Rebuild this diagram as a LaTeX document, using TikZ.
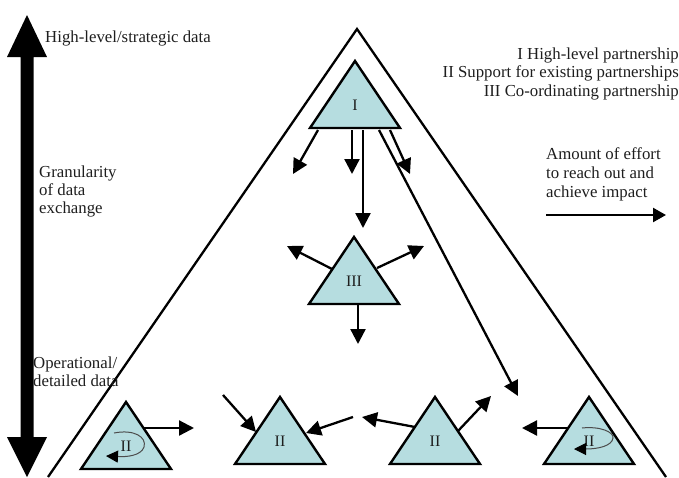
\documentclass[tikz,border=0pt]{standalone}
\usepackage{fontspec}
\setmainfont{Liberation Serif}
\usetikzlibrary{arrows.meta}
\definecolor{partfill}{RGB}{182,221,224}
\definecolor{txt}{RGB}{30,30,30}
\begin{document}
\begin{tikzpicture}[x=1pt,y=-1pt,
  lbl/.style={inner sep=0pt, anchor=base west, text=txt, font=\fontsize{16.8}{18.5}\selectfont},
  rlbl/.style={lbl, anchor=base east},
  numlbl/.style={inner sep=0pt, text=txt, font=\fontsize{16}{18}\selectfont},
  part/.style={draw=black, fill=partfill, line width=2.4pt, line join=miter},
  flow/.style={line width=2.3pt, -{Triangle[length=15pt,width=15pt]}},
  frame/.style={line width=2.3pt},
  selfloop/.style={draw=gray!60!black, line width=1pt, -{Triangle[length=12pt,width=12pt,color=black]}},
  pics/parttri/.style={code={
    \path[part] (0,0) -- (45,67) -- (-45,67) -- cycle;
    \node[numlbl] (-lab) at (0,44) {#1};
  }},
]
\useasboundingbox (0,0) rectangle (679,477);

% vertical granularity scale (double-headed block arrow)
\fill[black] (27,15) -- (47,57) -- (33.5,57) -- (33.5,437) -- (47,437) -- (27,477)
  -- (7,437) -- (20.5,437) -- (20.5,57) -- (7,57) -- cycle;

% outer pyramid
\coordinate (apex) at (357,29);
\coordinate (baseL) at (48,477);
\coordinate (baseR) at (666,477);
\draw[frame] (baseL) -- (apex) -- (baseR);

% partnership triangles
\pic (tI) at (355,61) {parttri=I};
\pic (tIII) at (354,237) {parttri=III};
\pic (tIIa) at (126,402) {parttri=II};
\pic (tIIb) at (280,397) {parttri=II};
\pic (tIIc) at (435,397) {parttri=II};
\pic (tIId) at (589,397) {parttri=II};

% arrows leaving I
\coordinate (i1s) at (318,130); \coordinate (i1e) at (293,174);
\coordinate (i2s) at (352,130); \coordinate (i2e) at (352,174);
\coordinate (i3s) at (363,130); \coordinate (i3e) at (363,228);
\coordinate (i4s) at (390,130); \coordinate (i4e) at (410,174);
\coordinate (i5s) at (379,130); \coordinate (i5e) at (518,396);
\draw[flow] (i1s) -- (i1e);
\draw[flow] (i2s) -- (i2e);
\draw[flow] (i3s) -- (i3e);
\draw[flow] (i4s) -- (i4e);
\draw[flow] (i5s) -- (i5e);

% arrows leaving III
\coordinate (iii1s) at (332,269); \coordinate (iii1e) at (287,246);
\coordinate (iii2s) at (377,268); \coordinate (iii2e) at (424,246);
\coordinate (iii3s) at (358,305); \coordinate (iii3e) at (358,344);
\draw[flow] (iii1s) -- (iii1e);
\draw[flow] (iii2s) -- (iii2e);
\draw[flow] (iii3s) -- (iii3e);

% arrows among the II partnerships
\coordinate (a1s) at (144,428); \coordinate (a1e) at (194,428);
\coordinate (b1s) at (223,395); \coordinate (b1e) at (256,432);
\coordinate (b2s) at (353,417); \coordinate (b2e) at (306,433);
\coordinate (c1s) at (415,427); \coordinate (c1e) at (362,417);
\coordinate (c2s) at (458,431); \coordinate (c2e) at (491,396);
\coordinate (d1s) at (568,428); \coordinate (d1e) at (522,428);
\draw[flow] (a1s) -- (a1e);
\draw[flow] (b1s) -- (b1e);
\draw[flow] (b2s) -- (b2e);
\draw[flow] (c1s) -- (c1e);
\draw[flow] (c2s) -- (c2e);
\draw[flow] (d1s) -- (d1e);

% self loops
\coordinate (la) at (114,433); \coordinate (lae) at (106,456);
\draw[selfloop] (la) .. controls (134,429) and (147,437) .. (144,447)
  .. controls (141,456) and (126,457) .. (lae);
\coordinate (ld) at (582,428); \coordinate (lde) at (574,449);
\draw[selfloop] (ld) .. controls (600,426) and (614,432) .. (613,438)
  .. controls (612,446) and (598,449) .. (lde);

% effort arrow
\coordinate (effs) at (546,215); \coordinate (effe) at (666,215);
\draw[line width=2.3pt, -{Triangle[length=13pt,width=14pt]}] (effs) -- (effe);

% texts
\node[lbl] (hl) at (45,42) {High-level/strategic data};
\node[lbl] (g1) at (39,177) {Granularity};
\node[lbl] (g2) at (39,195) {of data};
\node[lbl] (g3) at (39,213) {exchange};
\node[lbl] (op1) at (33,368) {Operational/};
\node[lbl] (op2) at (33,386) {detailed data};
\node[rlbl] (k1) at (679,59) {I High-level partnership};
\node[rlbl] (k2) at (679,77) {II Support for existing partnerships};
\node[rlbl] (k3) at (679,96) {III Co-ordinating partnership};
\node[lbl] (e1) at (546,159) {Amount of effort};
\node[lbl] (e2) at (546,178) {to reach out and};
\node[lbl] (e3) at (546,197) {achieve impact};
\end{tikzpicture}
\end{document}
